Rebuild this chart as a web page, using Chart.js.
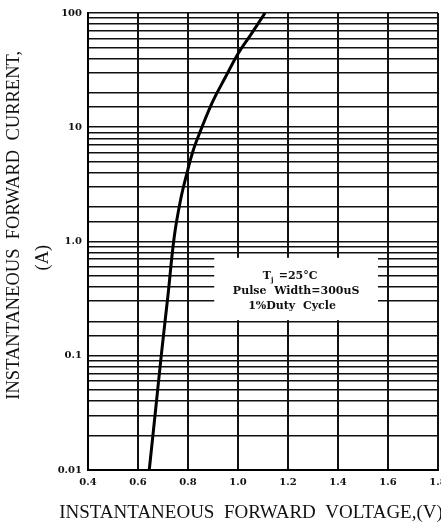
<!DOCTYPE html>
<html>
<head>
<meta charset="utf-8">
<script src="https://cdn.jsdelivr.net/npm/chart.js@4"></script>
<style>
  html, body { margin: 0; padding: 0; background: #ffffff; }
  #wrap { width: 441px; height: 532px; }
</style>
</head>
<body>
<div id="wrap"><canvas id="ivChart" width="441" height="532"></canvas></div>
<script>

// Forward characteristic

var voltage = [0.645, 0.67, 0.695, 0.72, 0.745, 0.77, 0.795, 0.82, 0.85, 0.90, 0.95, 1.00, 1.05, 1.108];
var current = [0.01, 0.033, 0.11, 0.34, 1.1, 2.3, 3.9, 6.2, 9.3, 17, 27.5, 44, 64, 100];

var x_ticks = [0.4, 0.6, 0.8, 1.0, 1.2, 1.4, 1.6, 1.8];
var y_labels = {0.01: '0.01', 0.1: '0.1', 1: '1.0', 10: '10', 100: '100'};

var x_title = 'INSTANTANEOUS  FORWARD  VOLTAGE,(V)';
var note_lines = ['=25\u00B0C', 'Pulse  Width=300uS', '1%Duty  Cycle'];


// white box with the test conditions, placed in data units
var note_box = {
    id: 'noteBox',
    beforeDatasetsDraw: function(chart) {
        var ctx = chart.ctx;
        var xs = chart.scales.x, ys = chart.scales.y;
        var x0 = xs.getPixelForValue(0.905), x1 = xs.getPixelForValue(1.56);
        var y0 = ys.getPixelForValue(0.72), y1 = ys.getPixelForValue(0.205);
        ctx.save();
        ctx.fillStyle = '#ffffff';
        ctx.fillRect(x0, y0, x1 - x0, y1 - y0);

        ctx.fillStyle = '#111';
        ctx.textBaseline = 'middle';
        ctx.font = 'bold 11px "DejaVu Serif", serif';
        var cx = (x0 + x1) / 2;
        var lh = 15;
        var top = y0 + 18;

        // T with subscript j
        ctx.textAlign = 'left';
        var w0 = ctx.measureText('T').width;
        var w2 = ctx.measureText(' ' + note_lines[0]).width;
        var start = cx - (w0 + 4 + w2) / 2 - 6;
        ctx.fillText('T', start, top);
        ctx.font = 'bold 7px "DejaVu Serif", serif';
        ctx.fillText('j', start + w0, top + 4);
        ctx.font = 'bold 11px "DejaVu Serif", serif';
        ctx.fillText(' ' + note_lines[0], start + w0 + 4, top);

        ctx.textAlign = 'center';
        ctx.fillText(note_lines[1], cx, top + lh);
        ctx.textAlign = 'left';
        ctx.fillText(note_lines[2], cx - 48, top + 2 * lh);
        ctx.restore();
    }
};

// x title is wider than the plot, chart.js would squeeze it, so draw it here
var x_title_plugin = {
    id: 'xTitle',
    afterDraw: function(chart) {
        var ctx = chart.ctx;
        var area = chart.chartArea;
        ctx.save();
        ctx.fillStyle = '#111';
        ctx.font = '19px "Liberation Serif", serif';
        ctx.textAlign = 'center';
        ctx.textBaseline = 'middle';
        ctx.fillText(x_title, (area.left + area.right) / 2 - 12, area.bottom + 43);
        ctx.restore();
    }
};


var ctx = document.getElementById('ivChart').getContext('2d');

var chart_object = new Chart(ctx, {
    type: 'scatter',

    data: {
        datasets: [{
            data: voltage.map(function(v, i) { return {x: v, y: current[i]}; }),
            showLine: true,
            borderColor: '#000',
            borderWidth: 3,
            pointRadius: 0,
            tension: 0.4,
        }],
    },

    options: {
        responsive: false,
        animation: false,
        layout: {padding: {top: 13, right: 3, left: 0, bottom: 0}},

        scales: {
            x: {
                type: 'linear',
                min: 0.4,
                max: 1.8,
                afterBuildTicks: function(scale) {
                    scale.ticks = x_ticks.map(function(v) { return {value: v}; });},
                afterFit: function(scale) {
                    scale.height = 62;
                    scale.paddingLeft = 0;
                    scale.paddingRight = 0;},
                border: {color: '#000', width: 2},
                grid: {color: '#111', lineWidth: 2, drawTicks: false},
                ticks: {
                    color: '#111',
                    padding: 6,
                    maxRotation: 0,
                    font: {family: '"DejaVu Serif", serif', size: 10, weight: 'bold'},
                    callback: function(v) { return v.toFixed(1); },},
            },
            y: {
                type: 'logarithmic',
                min: 0.01,
                max: 100,
                afterFit: function(scale) {
                    scale.width = 88;
                    scale.paddingTop = 0;
                    scale.paddingBottom = 0;},
                border: {color: '#000', width: 2},
                grid: {color: '#111', lineWidth: 1.6, drawTicks: false},
                ticks: {
                    color: '#111',
                    padding: 6,
                    autoSkip: false,
                    font: {family: '"DejaVu Serif", serif', size: 10, weight: 'bold'},
                    callback: function(v) {
                        return y_labels[v] !== undefined ? y_labels[v] : '';},},
                title: {
                    display: true,
                    text: ['       INSTANTANEOUS  FORWARD  CURRENT,', '(A)       '],
                    color: '#111',
                    font: {family: '"Liberation Serif", serif', size: 18.5, lineHeight: 1.55},
                    padding: {top: 0, bottom: 0},},
            },
        },

        plugins: {
            legend: {display: false},
            tooltip: {enabled: false},
        },
    },
    plugins: [note_box, x_title_plugin],
});

</script>
</body>
</html>
